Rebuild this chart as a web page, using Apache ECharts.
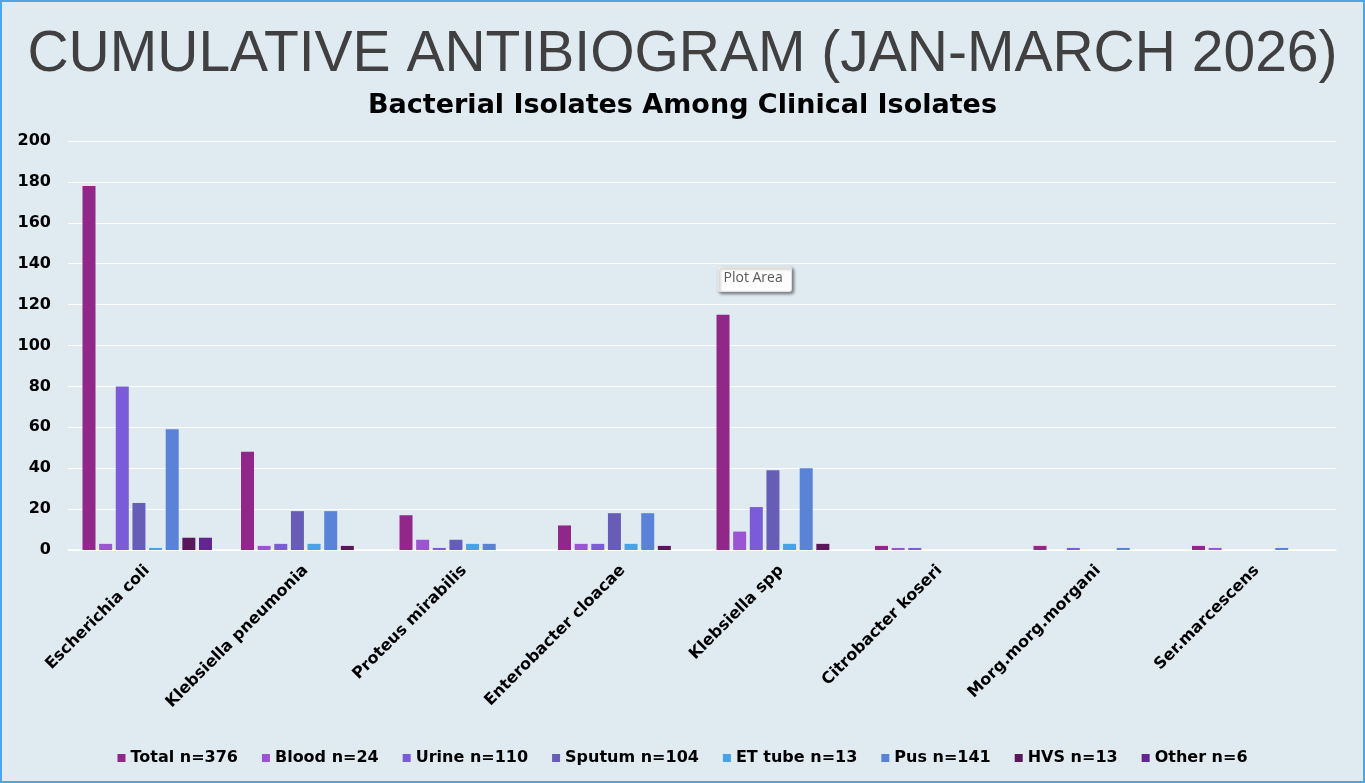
<!DOCTYPE html>
<html>
<head>
<meta charset="utf-8">
<script src="https://cdn.jsdelivr.net/npm/echarts@6/dist/echarts.min.js"></script>
<style>
  html, body { margin: 0; padding: 0; background: #fff; }
  #main { width: 1361px; height: 779px; border: 2px solid #4ea5ea; background: #dfeaf1; }
</style>
</head>
<body>
<div id="main"></div>
<script>
// organisms
var categories = ['Escherichia coli', 'Klebsiella pneumonia', 'Proteus mirabilis', 'Enterobacter cloacae',
                  'Klebsiella spp', 'Citrobacter koseri', 'Morg.morg.morgani', 'Ser.marcescens'];

// counts per specimen type
var total  = [178, 48, 17, 12, 115, 2, 2, 2];
var blood  = [3, 2, 5, 3, 9, 1, 0, 1];
var urine  = [80, 3, 1, 3, 21, 1, 1, 0];
var sputum = [23, 19, 5, 18, 39, 0, 0, 0];
var etTube = [1, 3, 3, 3, 3, 0, 0, 0];
var pus    = [59, 19, 3, 18, 40, 0, 1, 1];
var hvs    = [6, 2, 0, 2, 3, 0, 0, 0];
var other  = [6, 0, 0, 0, 0, 0, 0, 0];

var seriesNames = ['Total n=376', 'Blood n=24', 'Urine n=110', 'Sputum n=104', 'ET tube n=13', 'Pus n=141', 'HVS n=13', 'Other n=6'];
var seriesData = [total, blood, urine, sputum, etTube, pus, hvs, other];
var colors = ['#912889', '#9b55d4', '#7a5cd8', '#675db6', '#45a3e9', '#5a83d8', '#58185a', '#61268f'];

var yTicks = [0, 200, 20]; // min, max, step

var font = '"DejaVu Sans", Verdana, sans-serif';

var myChart = echarts.init(document.getElementById('main'));

var option = {
    backgroundColor: '#dfeaf1',
    color: colors,
    title: [{
        text: 'CUMULATIVE ANTIBIOGRAM (JAN-MARCH 2026)',
        left: 'center',
        top: 20,
        textStyle: { fontFamily: '"Liberation Sans", Arial, sans-serif', fontWeight: 'normal', fontSize: 57, color: '#404040' }
    }, {
        text: 'Bacterial Isolates Among Clinical Isolates',
        left: 'center',
        top: 85,
        textStyle: { fontFamily: font, fontWeight: 'bold', fontSize: 27, color: '#000' }
    }],
    grid: { left: 66, right: 27, top: 139, bottom: 231 },
    legend: {
        bottom: 10,
        left: 'center',
        itemWidth: 8,
        itemHeight: 8,
        itemGap: 24,
        icon: 'rect',
        textStyle: { fontFamily: font, fontWeight: 'bold', fontSize: 16, color: '#000' },
        data: seriesNames
    },
    xAxis: {
        type: 'category',
        data: categories,
        axisLine: { lineStyle: { color: '#ffffff', width: 1.5 } },
        axisTick: { show: false },
        axisLabel: {
            rotate: 45,
            interval: 0,
            margin: 18,
            color: '#000',
            fontFamily: font,
            fontWeight: 'bold',
            fontSize: 16
        }
    },
    yAxis: {
        type: 'value',
        min: yTicks[0],
        max: yTicks[1],
        interval: yTicks[2],
        axisLine: { show: false },
        axisTick: { show: false },
        splitLine: { lineStyle: { color: '#ffffff', width: 1.2 } },
        axisLabel: { color: '#000', fontFamily: font, fontWeight: 'bold', fontSize: 16, margin: 17 }
    },
    graphic: [{
        type: 'group',
        left: 715,
        top: 264,
        children: [{
            type: 'rect',
            shape: { x: 0, y: 0, width: 74, height: 25, r: 2 },
            style: { fill: '#fdfdfd', stroke: '#e0e0e0', shadowBlur: 3, shadowOffsetX: 2, shadowOffsetY: 2, shadowColor: 'rgba(0,0,0,0.45)' }
        }, {
            type: 'text',
            x: 6, y: 5,
            style: { text: 'Plot Area', fill: '#595959', font: '14px "Open Sans", "Noto Sans", sans-serif' }
        }]
    }],
    series: seriesNames.map(function (name, i) {
        return {
            name: name,
            type: 'bar',
            data: seriesData[i],
            barWidth: 13,
            barGap: '28%',
            itemStyle: { color: colors[i] }
        };
    })
};

myChart.setOption(option);
</script>
</body>
</html>
